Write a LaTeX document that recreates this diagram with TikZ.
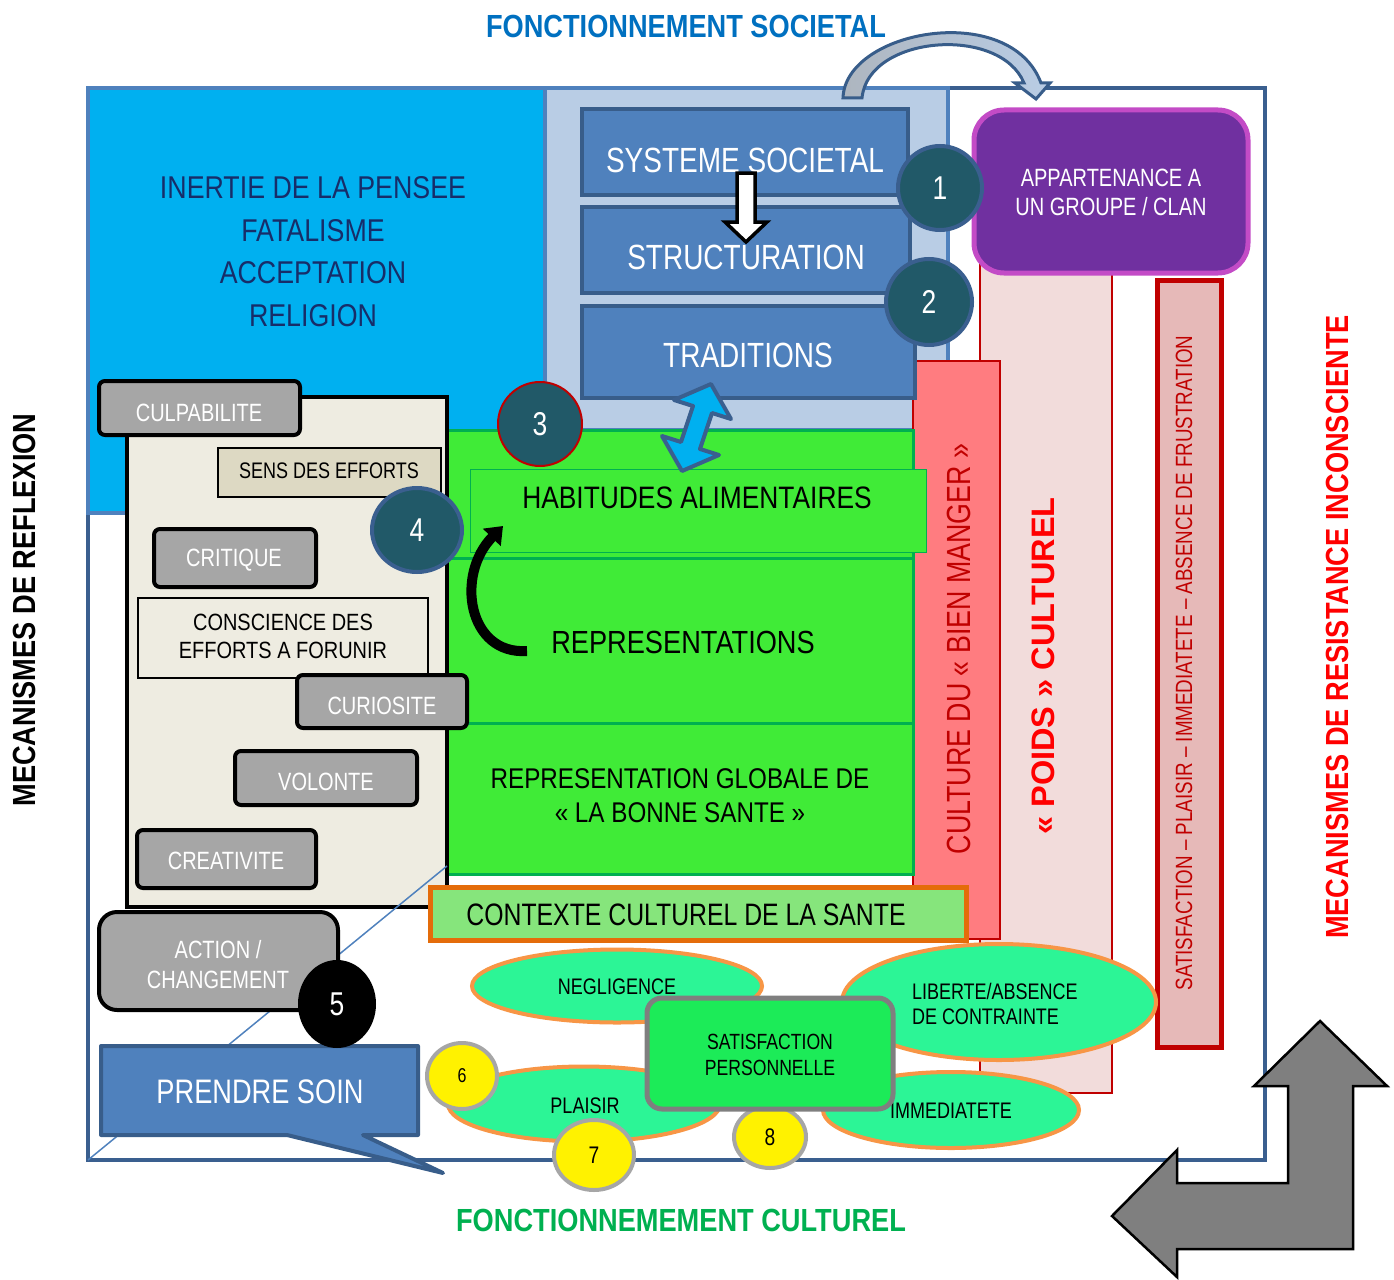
\documentclass[tikz,border=0pt]{standalone}
\usepackage{fontspec}
\setmainfont{Liberation Sans}
\newfontfamily\nar[FakeStretch=0.85]{Liberation Sans}
\newfontfamily\tah[FakeStretch=0.8]{Liberation Sans}
\usetikzlibrary{shapes.geometric,arrows.meta}
\newcommand\fsz[2]{\fontsize{#1}{#2}\selectfont}
\definecolor{frameblue}{RGB}{58,95,143}
\definecolor{cyanb}{RGB}{79,129,189}
\definecolor{cyan1}{RGB}{0,176,240}
\definecolor{panel}{RGB}{185,205,229}
\definecolor{boxblue}{RGB}{79,129,189}
\definecolor{boxblueb}{RGB}{56,93,138}
\definecolor{teal1}{RGB}{33,89,104}
\definecolor{purple1}{RGB}{112,48,160}
\definecolor{magb}{RGB}{195,75,198}
\definecolor{darkred}{RGB}{192,0,0}
\definecolor{pinkbg}{RGB}{242,220,219}
\definecolor{frustfill}{RGB}{230,185,184}
\definecolor{salmon}{RGB}{255,124,128}
\definecolor{green1}{RGB}{64,235,55}
\definecolor{green2}{RGB}{0,176,80}
\definecolor{ctxfill}{RGB}{134,229,124}
\definecolor{ctxb}{RGB}{228,108,10}
\definecolor{beige}{RGB}{238,236,225}
\definecolor{beige2}{RGB}{221,217,195}
\definecolor{boxgrey}{RGB}{166,166,166}
\definecolor{ellfill}{RGB}{44,245,150}
\definecolor{ellb}{RGB}{247,150,70}
\definecolor{satfill}{RGB}{28,235,88}
\definecolor{satb}{RGB}{127,127,127}
\definecolor{navy}{RGB}{23,45,105}
\definecolor{titleblue}{RGB}{0,112,192}
\definecolor{titlegreen}{RGB}{0,176,80}
\begin{document}
\begin{tikzpicture}[x=1pt,y=-1pt,
  plain/.style={inner sep=0, outer sep=0},
  txt/.style={inner sep=0, outer sep=0, align=center, anchor=center},
  bluebox/.style={plain, draw=boxblueb, line width=4, fill=boxblue},
  bluetxt/.style={txt, text=white, font={\tah\fsz{35}{42}}},
  greybox/.style={plain, draw=black, line width=4, fill=boxgrey, rounded corners=6},
  greytxt/.style={txt, text=white, font={\tah\fsz{25}{30}}},
  numc/.style={plain, circle, fill=teal1, draw=frameblue, line width=4, text=white, font={\tah\fsz{33}{33}}},
  ell/.style={plain, ellipse, fill=ellfill, draw=ellb, line width=4},
  elltxt/.style={txt, font={\tah\fsz{22.5}{25}}},
  yel/.style={plain, ellipse, fill=yellow, draw=boxgrey, line width=4, font={\tah\fsz{24}{24}}},
  head/.style={txt, font={\nar\bfseries\fsz{32}{38}}}
]
\useasboundingbox (0,0) rectangle (1394,1279);

% outer frame
\node[plain, draw=frameblue, line width=4, minimum width=1177, minimum height=1072] (frame) at (676.5,624) {};
\coordinate (frameBL) at (88,1160);

% cyan box and societal panel
\node[plain, draw=cyanb, line width=4, fill=cyan1, minimum width=457, minimum height=425] (cyanbox) at (316.5,300.5) {};
\node[txt, text=navy, font={\nar\fsz{31.5}{42.5}}] (inertie) at (313,251.5) {INERTIE DE LA PENSEE\\FATALISME\\ACCEPTATION\\RELIGION};
\node[plain, draw=cyanb, line width=4, fill=panel, minimum width=403, minimum height=342] (panel) at (746.5,259) {};

% top curved arrow
\filldraw[draw=boxblueb, line width=3, left color=boxgrey!60!panel, right color=panel]
  (843,98) .. controls (845,30) and (1010,0) .. (1041,83) -- (1050,83) -- (1036,99) -- (1015,83) -- (1024,83)
  .. controls (1000,25) and (868,35) .. (862,98) -- cycle;

% right side bars
\node[plain, draw=darkred, line width=2, fill=pinkbg, minimum width=132, minimum height=830] (poidsbox) at (1046,678) {};
\node[plain, draw=darkred, line width=5, fill=frustfill, minimum width=64, minimum height=767] (frustbar) at (1189,663.5) {};
\node[txt, rotate=90, text=darkred, font={\tah\fsz{23.5}{28}}] (frusttxt) at (1184,663) {SATISFACTION – PLAISIR – IMMEDIATETE – ABSENCE DE FRUSTRATION};
\node[plain, draw=magb, line width=5, fill=purple1, rounded corners=30, minimum width=274, minimum height=163] (appart) at (1111,191.5) {};
\node[txt, text=white, font={\tah\fsz{25}{29}}] (appartT) at (1111,192.5) {APPARTENANCE A\\UN GROUPE / CLAN};
\node[plain, draw=darkred, line width=2, fill=salmon, minimum width=87, minimum height=578] (bienmanger) at (956.5,650) {};
\node[txt, rotate=90, text=darkred, font={\tah\fsz{33.5}{38}}] (bienmangerT) at (959,649) {CULTURE DU « BIEN MANGER »};
\node[txt, rotate=90, text=red, font={\bfseries\fsz{32.5}{38}}] (poids) at (1043,666) {« POIDS » CULTUREL};

% green zone
\node[plain, draw=green2, line width=3, fill=green1, minimum width=466, minimum height=128] (band1) at (680,494) {};
\node[plain, draw=green2, line width=3, fill=green1, minimum width=466, minimum height=165] (band2) at (680,640.5) {};
\node[plain, draw=green2, line width=3, fill=green1, minimum width=466, minimum height=151] (band3) at (680,798.5) {};
\node[plain, draw=green2, line width=1, fill=green1, minimum width=456, minimum height=83] (habbox) at (698,510.5) {};
\node[txt, font={\nar\fsz{31}{36}}] (habT) at (697,498) {HABITUDES ALIMENTAIRES};
\node[txt, font={\nar\fsz{32}{36}}] (repT) at (683,642) {REPRESENTATIONS};
\node[txt, font={\nar\fsz{28.5}{34}}] (globT) at (680,796) {REPRESENTATION GLOBALE DE\\« LA BONNE SANTE »};

% societal boxes
\node[bluebox, minimum width=326, minimum height=86] (sys) at (745,152) {};
\node[bluetxt] (sysT) at (745,160) {SYSTEME SOCIETAL};
\node[bluebox, minimum width=328, minimum height=86] (struct) at (746,250) {};
\node[bluetxt] (structT) at (746,257) {STRUCTURATION};
\node[bluebox, minimum width=333, minimum height=92] (trad) at (748.5,352) {};
\node[bluetxt] (tradT) at (748,355) {TRADITIONS};

% white down arrow
\filldraw[draw=black, fill=white, line width=3.5]
  (737,173) -- (755,173) -- (755,222) -- (767,222) -- (746,242) -- (725,222) -- (737,222) -- cycle;
% double arrow traditions <-> habitudes
\filldraw[draw=frameblue, fill=cyan1, line width=4, line join=round]
  (711,384) -- (731,419) -- (712,413) -- (700,449) -- (719,455) -- (682,471) -- (662,436) -- (681,442) -- (693,406) -- (674,400) -- cycle;

% numbered circles
\node[numc, minimum size=84] (n1) at (940,188) {1};
\node[numc, minimum size=86] (n2) at (929,302) {2};
\node[numc, draw=darkred, line width=2, minimum size=84] (n3) at (540,424) {3};

% left beige panel
\node[plain, draw=black, line width=4, fill=beige, minimum width=320, minimum height=510] (beigep) at (287,652) {};
\node[greybox, minimum width=201, minimum height=54] (culp) at (199.5,408) {};
\node[greytxt] (culpT) at (199,413) {CULPABILITE};
\node[plain, draw=black, line width=2, fill=beige2, minimum width=223, minimum height=49] (sens) at (329.5,472.5) {};
\node[txt, font={\tah\fsz{22.5}{26}}] (sensT) at (329,471) {SENS DES EFFORTS};
\node[greybox, minimum width=162, minimum height=58] (crit) at (235,558) {};
\node[greytxt] (critT) at (234,560) {CRITIQUE};
\node[plain, draw=black, line width=1.5, fill=beige, minimum width=290, minimum height=80] (consc) at (283,638) {};
\node[txt, font={\nar\fsz{23.5}{28}}] (conscT) at (283,636) {CONSCIENCE DES\\EFFORTS A FORUNIR};
\node[greybox, minimum width=170, minimum height=53] (curio) at (382,701.5) {};
\node[greytxt] (curioT) at (382,706) {CURIOSITE};
\node[greybox, minimum width=182, minimum height=54] (vol) at (326,778) {};
\node[greytxt] (volT) at (326,782) {VOLONTE};
\node[greybox, minimum width=179, minimum height=58] (creat) at (226.5,859) {};
\node[greytxt] (creatT) at (226,861) {CREATIVITE};
\node[numc, ellipse, minimum width=90, minimum height=84] (n4) at (417,530) {4};

% curved black arrow representations -> habitudes
\coordinate (repA) at (527,651);
\coordinate (habA) at (503,526);
\draw[line width=10, -{Triangle[length=16pt,width=24pt]}] (repA) .. controls (468,655) and (455,575) .. (habA);

% contexte
\node[plain, draw=ctxb, line width=5, fill=ctxfill, minimum width=536, minimum height=53] (ctx) at (698,913.5) {};
\node[txt, font={\tah\fsz{31}{36}}] (ctxT) at (686,915) {CONTEXTE CULTUREL DE LA SANTE};

% diagonal line
\coordinate (diagEnd) at (447,866);
\draw[cyanb, line width=1.5] (frameBL) -- (diagEnd);

% action / prendre soin
\node[greybox, rounded corners=18, minimum width=239, minimum height=98] (action) at (218.5,961) {};
\node[greytxt] (actionT) at (218,965) {ACTION /\\CHANGEMENT};
\filldraw[draw=boxblueb, fill=boxblue, line width=4, line join=round]
  (101,1046) -- (418,1046) -- (418,1135) -- (363,1135) -- (443,1173) -- (287,1135) -- (101,1135) -- cycle;
\node[txt, text=white, font={\tah\fsz{34}{40}}] (soinT) at (260,1092) {PRENDRE SOIN};
\node[plain, ellipse, fill=black, minimum width=78, minimum height=88, text=white, font={\tah\fsz{33}{33}}] (n5) at (337,1004) {5};

% bottom ellipses
\node[ell, minimum width=290, minimum height=73] (negl) at (617,986) {};
\node[elltxt] (neglT) at (617,987) {NEGLIGENCE};
\node[ell, minimum width=314, minimum height=116] (lib) at (999,1002) {};
\node[elltxt, align=left, anchor=west] (libT) at (912,1004) {LIBERTE/ABSENCE\\DE CONTRAINTE};
\node[ell, minimum width=272, minimum height=75] (plais) at (584,1104) {};
\node[elltxt] (plaisT) at (585,1106) {PLAISIR};
\node[ell, minimum width=256, minimum height=76] (immed) at (951,1110) {};
\node[elltxt] (immedT) at (951,1111) {IMMEDIATETE};
\node[yel, minimum width=72, minimum height=62] (n8) at (770,1137) {8};
\node[plain, draw=satb, line width=5, fill=satfill, rounded corners=15, minimum width=246, minimum height=111] (satis) at (770,1053.5) {};
\node[txt, font={\tah\fsz{22}{26}}] (satisT) at (770,1055) {SATISFACTION\\PERSONNELLE};
\node[yel, minimum width=70, minimum height=66, font={\tah\fsz{20}{20}}] (n6) at (462,1076) {6};
\node[yel, minimum width=80, minimum height=70] (n7) at (594,1155) {7};

% grey L arrow
\filldraw[draw=black, fill=satb, line width=2.5]
  (1320,1021) -- (1387,1086) -- (1353,1086) -- (1353,1249) -- (1177,1249) -- (1177,1277) -- (1112,1216)
  -- (1177,1150) -- (1177,1183) -- (1288,1183) -- (1288,1086) -- (1254,1086) -- cycle;

% titles
\node[head, text=titleblue] (tSoc) at (686,26) {FONCTIONNEMENT SOCIETAL};
\node[head, text=titlegreen] (tCult) at (681,1220) {FONCTIONNEMEMENT CULTUREL};
\node[head, rotate=90] (tRefl) at (24,610) {MECANISMES DE REFLEXION};
\node[head, rotate=90, text=red] (tResist) at (1337,627) {MECANISMES DE RESISTANCE INCONSCIENTE};
\end{tikzpicture}
\end{document}
